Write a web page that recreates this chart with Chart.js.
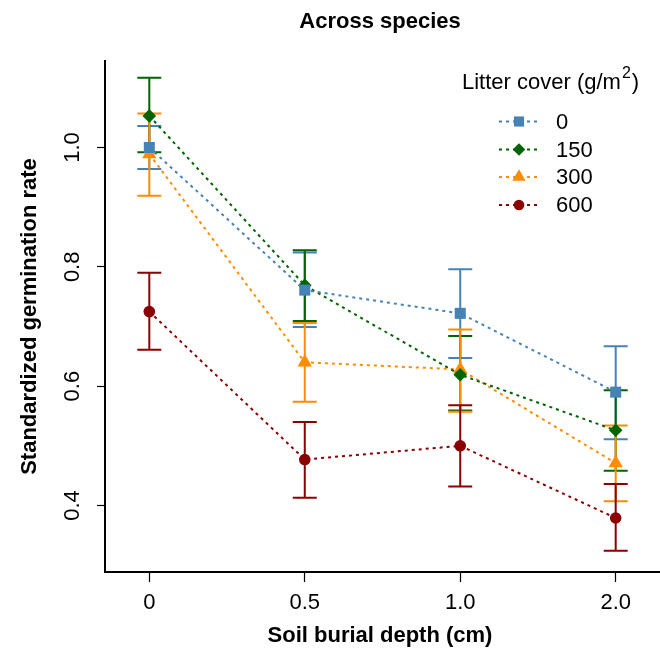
<!DOCTYPE html>
<html>
<head>
<meta charset="utf-8">
<script src="https://cdn.jsdelivr.net/npm/chart.js@4"></script>
<style>
html,body{margin:0;padding:0;background:#fff;}
#wrap{width:660px;height:651px;position:relative;}
</style>
</head>
<body>
<div id="wrap"><canvas id="c"></canvas></div>
<script>
const categories = ['0', '0.5', '1.0', '2.0'];
const yTicks = [0.4, 0.6, 0.8, 1.0];
const seriesNames = ['0', '150', '300', '600'];

const mean0   = [1.000, 0.761, 0.722, 0.590];
const lo0     = [0.964, 0.699, 0.647, 0.511];
const hi0     = [1.036, 0.824, 0.796, 0.667];

const mean150 = [1.053, 0.769, 0.619, 0.526];
const lo150   = [0.992, 0.709, 0.559, 0.458];
const hi150   = [1.117, 0.828, 0.684, 0.593];

const mean300 = [0.989, 0.640, 0.628, 0.471];
const lo300   = [0.919, 0.574, 0.557, 0.407];
const hi300   = [1.057, 0.706, 0.695, 0.534];

const mean600 = [0.725, 0.477, 0.500, 0.379];
const lo600   = [0.661, 0.413, 0.432, 0.324];
const hi600   = [0.790, 0.540, 0.568, 0.436];

const colors = ['#4682B4', '#006400', '#FF8C00', '#8B0000'];
const pointStyles = ['rect', 'rectRot', 'triangle', 'circle'];
const pointRadii = [7.8, 6.8, 8.3, 5.8];
const means = [mean0, mean150, mean300, mean600];
const los = [lo0, lo150, lo300, lo600];
const his = [hi0, hi150, hi300, hi600];

const FONT = '"Liberation Sans", Arial, sans-serif';

const datasets = means.map((m, k) => ({
  label: seriesNames[k],
  data: m.map((v, i) => ({x: i, y: v})),
  borderColor: colors[k],
  backgroundColor: colors[k],
  borderWidth: 2,
  borderDash: [3, 4],
  pointStyle: pointStyles[k],
  pointRadius: pointRadii[k],
  pointBorderWidth: 0,
  pointBackgroundColor: colors[k],
  fill: false,
  tension: 0,
  clip: false
}));

const errorBars = {
  id: 'errorBars',
  beforeDatasetsDraw(chart) {
    const ctx = chart.ctx;
    const xs = chart.scales.x, ys = chart.scales.y;
    ctx.save();
    ctx.lineWidth = 2;
    for (let k = 0; k < means.length; k++) {
      ctx.strokeStyle = colors[k];
      for (let i = 0; i < categories.length; i++) {
        const x = xs.getPixelForValue(i);
        const yl = ys.getPixelForValue(los[k][i]);
        const yh = ys.getPixelForValue(his[k][i]);
        ctx.beginPath();
        ctx.moveTo(x, yl); ctx.lineTo(x, yh);
        ctx.moveTo(x - 12, yl); ctx.lineTo(x + 12, yl);
        ctx.moveTo(x - 12, yh); ctx.lineTo(x + 12, yh);
        ctx.stroke();
      }
    }
    ctx.restore();
  }
};

function drawMarker(ctx, style, x, y, r, color) {
  ctx.fillStyle = color;
  ctx.beginPath();
  if (style === 'rect') {
    const s = r * Math.SQRT1_2;
    ctx.rect(x - s, y - s, 2 * s, 2 * s);
  } else if (style === 'rectRot') {
    ctx.moveTo(x, y - r); ctx.lineTo(x + r, y); ctx.lineTo(x, y + r); ctx.lineTo(x - r, y); ctx.closePath();
  } else if (style === 'triangle') {
    ctx.moveTo(x, y - r);
    ctx.lineTo(x + r * 0.866, y + r * 0.5);
    ctx.lineTo(x - r * 0.866, y + r * 0.5);
    ctx.closePath();
  } else {
    ctx.arc(x, y, r, 0, Math.PI * 2);
  }
  ctx.fill();
}

const annotations = {
  id: 'annotations',
  afterDraw(chart) {
    const ctx = chart.ctx;
    const ys = chart.scales.y;
    const area = chart.chartArea;
    ctx.save();
    ctx.fillStyle = '#000';
    ctx.font = 'bold 22px ' + FONT;
    ctx.textAlign = 'center';
    ctx.textBaseline = 'middle';
    ctx.fillText('Across species', 380, 22);
    ctx.fillText('Soil burial depth (cm)', 380, 636);
    ctx.save();
    ctx.translate(30, (area.top + area.bottom) / 2);
    ctx.rotate(-Math.PI / 2);
    ctx.fillText('Standardized germination rate', 0, 0);
    ctx.restore();
    ctx.font = '22px ' + FONT;
    yTicks.forEach(v => {
      const y = ys.getPixelForValue(v);
      ctx.save();
      ctx.translate(73, y);
      ctx.rotate(-Math.PI / 2);
      ctx.fillText(v.toFixed(1), 0, 0);
      ctx.restore();
    });
    // Legend
    ctx.textAlign = 'left';
    ctx.font = '22px ' + FONT;
    const t1 = 'Litter cover (g/m';
    let tx = 462;
    ctx.fillText(t1, tx, 83);
    tx += ctx.measureText(t1).width;
    ctx.font = '16px ' + FONT;
    ctx.fillText('2', tx + 1, 74);
    tx += ctx.measureText('2').width + 2;
    ctx.font = '22px ' + FONT;
    ctx.fillText(')', tx, 83);
    const rows = [121.5, 149.5, 177, 205];
    seriesNames.forEach((name, k) => {
      const y = rows[k];
      ctx.strokeStyle = colors[k];
      ctx.lineWidth = 2;
      ctx.setLineDash([3, 4]);
      ctx.beginPath();
      ctx.moveTo(499, y); ctx.lineTo(538, y);
      ctx.stroke();
      ctx.setLineDash([]);
      drawMarker(ctx, pointStyles[k], 519, y, pointRadii[k] * 0.92, colors[k]);
      ctx.fillStyle = '#000';
      ctx.fillText(name, 556, y + 1);
    });
    ctx.restore();
  }
};

new Chart(document.getElementById('c'), {
  type: 'line',
  data: { datasets },
  options: {
    responsive: true,
    maintainAspectRatio: false,
    animation: false,
    layout: { autoPadding: false, padding: { top: 61, right: 0, left: 0, bottom: 0 } },
    plugins: { legend: { display: false }, tooltip: { enabled: false }, title: { display: false } },
    scales: {
      x: {
        type: 'linear',
        min: -0.285,
        max: 3.285,
        afterBuildTicks: s => { s.ticks = categories.map((c, i) => ({ value: i })); },
        afterFit: s => { s.height = 79; s.paddingLeft = 0; s.paddingRight = 0; },
        grid: { display: true, drawOnChartArea: false, drawTicks: true, tickLength: 10, tickColor: '#000', tickWidth: 1.2 },
        border: { display: true, color: '#000', width: 2 },
        ticks: {
          callback: v => categories[v],
          color: '#000',
          font: { family: FONT, size: 22 },
          padding: 8,
          maxRotation: 0,
          autoSkip: false
        }
      },
      y: {
        type: 'linear',
        min: 0.2885,
        max: 1.145,
        afterBuildTicks: s => { s.ticks = yTicks.map(v => ({ value: v })); },
        afterFit: s => { s.width = 105; s.paddingTop = 0; s.paddingBottom = 0; },
        grid: { display: true, drawOnChartArea: false, drawTicks: true, tickLength: 8, tickColor: '#000', tickWidth: 1.2 },
        border: { display: true, color: '#000', width: 2 },
        ticks: { display: false }
      }
    }
  },
  plugins: [errorBars, annotations]
});
</script>
</body>
</html>
